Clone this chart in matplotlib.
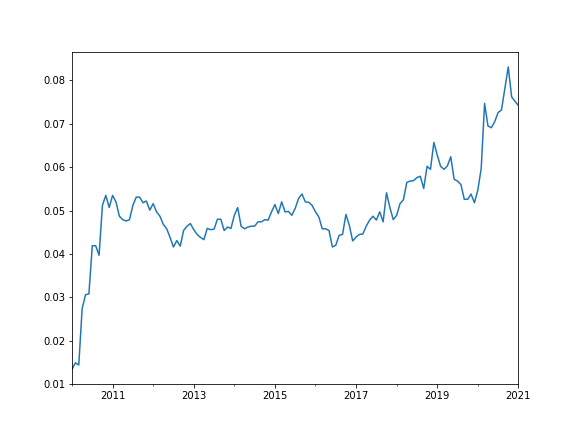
import pandas as pd
import numpy as np
import matplotlib
matplotlib.use('Agg')
import matplotlib.pyplot as plt

# monthly values, Jan 2010 .. Jan 2021
values = [0.0134, 0.0149, 0.0144, 0.0274, 0.0306, 0.0308, 0.0419, 0.0419, 0.0397, 0.0512,
          0.0535, 0.0507, 0.0535, 0.0520, 0.0487, 0.0479, 0.0476, 0.0479, 0.0512, 0.0531,
          0.0531, 0.0518, 0.0522, 0.0501, 0.0516, 0.0497, 0.0487, 0.0468, 0.0458, 0.0438,
          0.0416, 0.0431, 0.0418, 0.0454, 0.0464, 0.0470, 0.0456, 0.0445, 0.0438, 0.0433,
          0.0459, 0.0456, 0.0457, 0.0480, 0.0480, 0.0454, 0.0462, 0.0459, 0.0489, 0.0507,
          0.0464, 0.0458, 0.0462, 0.0464, 0.0464, 0.0474, 0.0474, 0.0479, 0.0478, 0.0497,
          0.0514, 0.0493, 0.0520, 0.0497, 0.0498, 0.0489, 0.0505, 0.0528, 0.0538, 0.0520,
          0.0519, 0.0512, 0.0497, 0.0485, 0.0458, 0.0458, 0.0454, 0.0416, 0.0420, 0.0443,
          0.0445, 0.0491, 0.0466, 0.0430, 0.0439, 0.0445, 0.0446, 0.0464, 0.0478, 0.0487,
          0.0478, 0.0497, 0.0474, 0.0541, 0.0507, 0.0479, 0.0489, 0.0516, 0.0525, 0.0565,
          0.0568, 0.0569, 0.0576, 0.0579, 0.0551, 0.0602, 0.0595, 0.0657, 0.0628, 0.0602,
          0.0595, 0.0603, 0.0624, 0.0572, 0.0568, 0.0560, 0.0526, 0.0526, 0.0538, 0.0518,
          0.0547, 0.0597, 0.0747, 0.0695, 0.0691, 0.0705, 0.0726, 0.0732, 0.0782, 0.0831,
          0.0762, 0.0752, 0.0742]

dates = pd.date_range('2010-01-01', periods=len(values), freq='MS')
s = pd.Series(values, index=dates)

fig, ax = plt.subplots(figsize=(8, 6), dpi=72)
s.plot(ax=ax)
ax.set_xlabel('')
plt.savefig('out.png')
